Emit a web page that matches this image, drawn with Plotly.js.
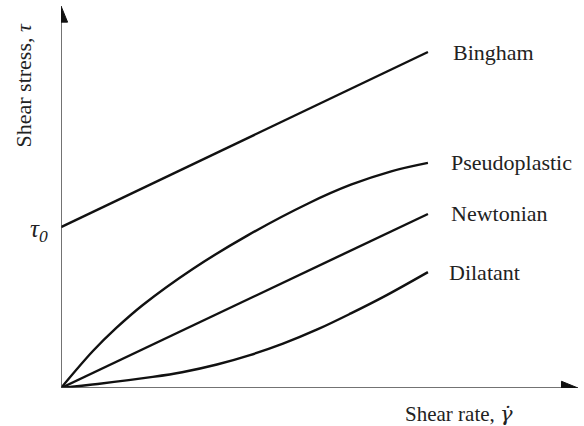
<!DOCTYPE html>
<html>
<head>
<meta charset="utf-8">
<script src="https://cdn.plot.ly/plotly-3.0.1.min.js"></script>
<style>html,body{margin:0;padding:0;background:#fff;}</style>
</head>
<body>
<div id="chart" style="width:584px;height:426px;"></div>
<script>
// Data (arbitrary units)
const binghamX = [0, 10];
const binghamY = [4.79, 10];
const pseudoX = [0, 0.87, 1.5, 2.23, 3.6, 5.1, 6.75, 7.9, 9, 10];
const pseudoY = [0, 1.1, 1.78, 2.47, 3.55, 4.55, 5.5, 6.05, 6.45, 6.7];
const newtonX = [0, 10];
const newtonY = [0, 5.18];
const dilatX = [0, 1, 2.5, 3.3, 4.25, 5.15, 6.05, 7, 7.9, 8.8, 10];
const dilatY = [0, 0.12, 0.33, 0.47, 0.7, 0.98, 1.32, 1.75, 2.22, 2.72, 3.45];
const names = ['Bingham', 'Pseudoplastic', 'Newtonian', 'Dilatant'];

const xMax = 14.09, yMax = 11.37;
const series = [[binghamX, binghamY], [pseudoX, pseudoY], [newtonX, newtonY], [dilatX, dilatY]];
const labelShift = [23, 21, 21, 19];

const traces = series.map((s, i) => ({
  x: s[0], y: s[1], mode: 'lines', name: names[i],
  line: {color: '#111', width: 2.4, shape: 'spline', smoothing: 1},
  hoverinfo: 'skip', showlegend: false
}));

const fam = '"Liberation Serif", "Times New Roman", serif';
const font = (size) => ({family: fam, color: '#222', size: size});
const annotations = series.map((s, i) => ({
  x: s[0][s[0].length - 1], y: s[1][s[1].length - 1], xref: 'x', yref: 'y',
  text: names[i], showarrow: false, xanchor: 'left', yanchor: 'middle',
  xshift: labelShift[i], font: font(22)
}));
annotations.push({
  x: 0, y: binghamY[0], xref: 'x', yref: 'y', text: '<i>τ<sub>0</sub></i>',
  showarrow: false, xanchor: 'right', yanchor: 'middle', xshift: -11, yshift: -3,
  font: font(25)
});
annotations.push({
  x: 0.878, y: 0, xref: 'paper', yref: 'paper',
  text: 'Shear rate, <span style="font-family:\'DejaVu Serif\'"><i>γ̇</i></span>',
  showarrow: false, xanchor: 'right', yanchor: 'top', yshift: -12,
  font: font(21)
});
annotations.push({
  x: 0, y: 1, xref: 'paper', yref: 'paper', text: 'Shear stress, <i>τ</i>',
  showarrow: false, textangle: -90, xanchor: 'right', yanchor: 'top', xshift: -24, yshift: -16,
  font: font(22)
});

const axisColor = '#444';
const shapes = [
  {type: 'line', xref: 'x', yref: 'y', x0: 0, y0: 0, x1: xMax - 0.3, y1: 0, line: {color: axisColor, width: 1.5}},
  {type: 'line', xref: 'x', yref: 'y', x0: 0, y0: 0, x1: 0, y1: yMax - 0.3, line: {color: axisColor, width: 1.5}},
  {type: 'path', xref: 'x', yref: 'y',
   path: `M ${xMax} 0 L ${xMax - 0.45} 0.2 L ${xMax - 0.45} -0.2 Z`,
   fillcolor: '#111', line: {color: '#111', width: 1}},
  {type: 'path', xref: 'x', yref: 'y',
   path: `M 0 ${yMax} L 0.18 ${yMax - 0.48} L -0.18 ${yMax - 0.48} Z`,
   fillcolor: '#111', line: {color: '#111', width: 1}}
];

const layout = {
  width: 584, height: 426,
  margin: {l: 61, r: 6, t: 6, b: 38},
  paper_bgcolor: '#fff', plot_bgcolor: '#fff',
  xaxis: {range: [0, xMax], showgrid: false, zeroline: false, showticklabels: false, ticks: '', showline: false, fixedrange: true},
  yaxis: {range: [0, yMax], showgrid: false, zeroline: false, showticklabels: false, ticks: '', showline: false, fixedrange: true},
  shapes: shapes,
  annotations: annotations
};

Plotly.newPlot('chart', traces, layout, {displayModeBar: false, staticPlot: true});
</script>
</body>
</html>
